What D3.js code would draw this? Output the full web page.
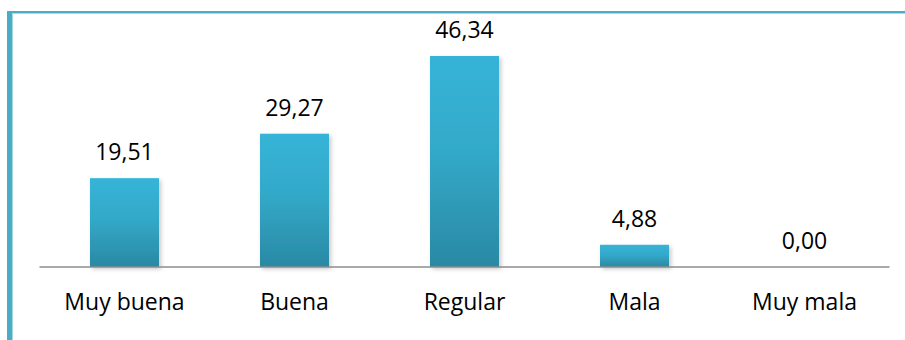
<!DOCTYPE html>
<html>
<head>
<meta charset="utf-8">
<script src="https://cdn.jsdelivr.net/npm/d3@7"></script>
<style>
  html, body { margin: 0; padding: 0; background: #ffffff; }
  svg { display: block; }
</style>
</head>
<body>
<svg id="chart" width="905" height="340"></svg>
<script>
// Rating categories and their percentage shares
const categories = ["Muy buena", "Buena", "Regular", "Mala", "Muy mala"];
const values = [19.51, 29.27, 46.34, 4.88, 0.00];
const valueLabels = ["19,51", "29,27", "46,34", "4,88", "0,00"];

const W = 905, H = 340;
const svg = d3.select("#chart");
const font = "'Open Sans', 'Noto Sans', sans-serif";
const fontSize = 23;

const defs = svg.append("defs");
const grad = defs.append("linearGradient")
  .attr("id", "barFill").attr("x1", 0).attr("y1", 0).attr("x2", 0).attr("y2", 1);
grad.append("stop").attr("offset", "0%").attr("stop-color", "#36b4d8");
grad.append("stop").attr("offset", "45%").attr("stop-color", "#33a9c9");
grad.append("stop").attr("offset", "100%").attr("stop-color", "#2a89a4");

const shadow = defs.append("filter").attr("id", "barShadow")
  .attr("x", "-20%").attr("y", "-20%").attr("width", "150%").attr("height", "150%");
shadow.append("feDropShadow")
  .attr("dx", 2).attr("dy", 2).attr("stdDeviation", 2)
  .attr("flood-color", "#000").attr("flood-opacity", 0.22);

// Frame: thick left edge and thin top edge
svg.append("rect").attr("x", 7).attr("y", 11).attr("width", 5).attr("height", H - 11).attr("fill", "#4bacc6");
svg.append("rect").attr("x", 7).attr("y", 11).attr("width", W - 7).attr("height", 2).attr("fill", "#4bacc6");
svg.append("rect").attr("x", 12).attr("y", 13).attr("width", 1).attr("height", H - 13).attr("fill", "#a9d8e6");
svg.append("rect").attr("x", 12).attr("y", 13).attr("width", W - 12).attr("height", 1).attr("fill", "#a9d8e6");

const plot = { left: 39.5, right: 889.5, top: 56, bottom: 267 };

const x = d3.scaleBand()
  .domain(categories)
  .range([plot.left, plot.right])
  .paddingInner(0.594)
  .paddingOuter(0.297);

const y = d3.scaleLinear()
  .domain([0, 46.34])
  .range([plot.bottom, plot.top]);

const data = categories.map((c, i) => ({ cat: c, value: values[i], label: valueLabels[i] }));

// Bars
svg.append("g").selectAll("rect")
  .data(data)
  .join("rect")
  .attr("x", d => x(d.cat))
  .attr("y", d => y(d.value))
  .attr("width", x.bandwidth())
  .attr("height", d => y(0) - y(d.value))
  .attr("fill", "url(#barFill)")
  .attr("filter", "url(#barShadow)");

// Category axis
const axis = d3.axisBottom(x).tickSize(0);
const gAxis = svg.append("g")
  .attr("transform", `translate(0,${plot.bottom})`)
  .call(axis);
gAxis.select(".domain").attr("stroke", "#8c8c8c").attr("stroke-width", 1.6)
  .attr("d", `M${plot.left},0H${plot.right}`);
gAxis.selectAll(".tick text")
  .attr("font-family", font)
  .attr("font-size", fontSize)
  .attr("fill", "#000")
  .attr("dy", null)
  .attr("y", 43);

// Value labels above the bars
svg.append("g").selectAll("text")
  .data(data)
  .join("text")
  .attr("x", d => x(d.cat) + x.bandwidth() / 2)
  .attr("y", d => y(d.value) - 18)
  .attr("text-anchor", "middle")
  .attr("font-family", font)
  .attr("font-size", fontSize)
  .attr("fill", "#000")
  .text(d => d.label);
</script>
</body>
</html>
